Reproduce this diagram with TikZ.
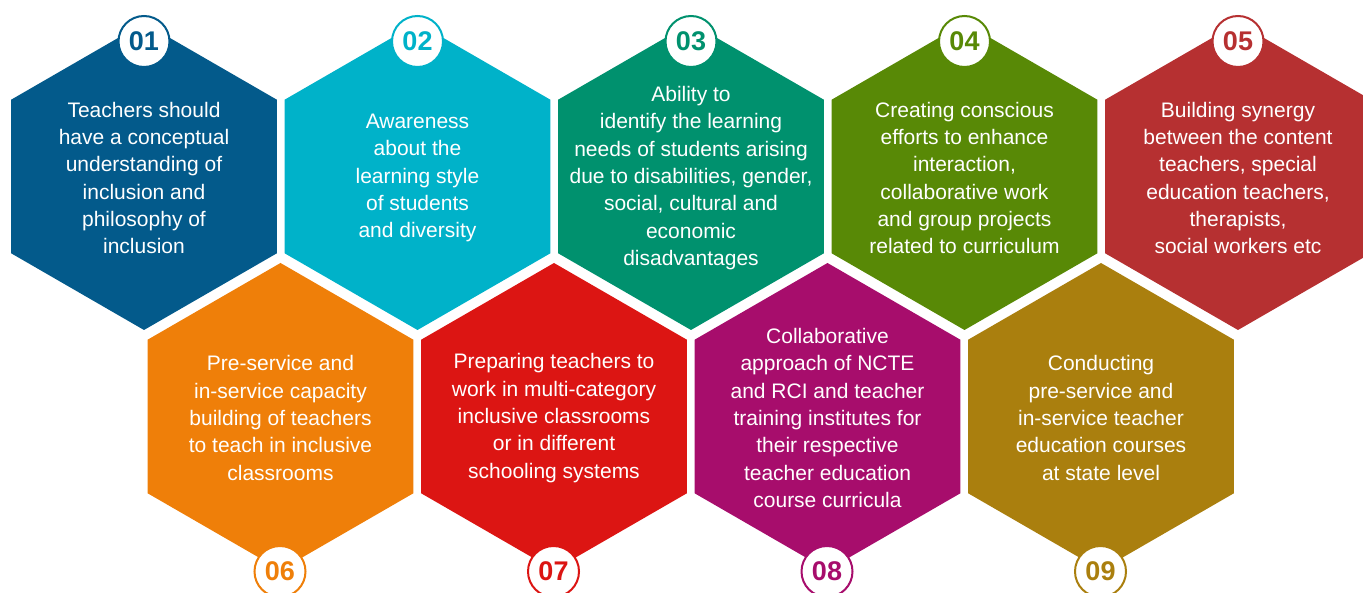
\documentclass[tikz,border=0pt]{standalone}
\usepackage{fontspec}
\setmainfont{Liberation Sans}
\usepackage{xcolor}
\usetikzlibrary{shapes.geometric, positioning}
\definecolor{cOne}{HTML}{035A8B}
\definecolor{cTwo}{HTML}{00B2C9}
\definecolor{cThree}{HTML}{00916E}
\definecolor{cFour}{HTML}{588906}
\definecolor{cFive}{HTML}{B63031}
\definecolor{cSix}{HTML}{EF7F09}
\definecolor{cSeven}{HTML}{DC1513}
\definecolor{cEight}{HTML}{A70D6C}
\definecolor{cNine}{HTML}{AA7F0E}
\tikzset{every node/.style={align=center}}

\begin{document}
\begin{tikzpicture}[x=1pt, y=-1pt,
    hexa/.style={regular polygon, regular polygon sides=6, draw=none,
                 shape border rotate=30,
                 minimum size=307pt, inner sep=0pt, outer sep=0pt},
    txt/.style={text=white, inner sep=0pt, yshift=-1.5pt,
                font=\fontsize{21}{27.3}\selectfont},
    badge/.style={circle, fill=white, line width=2pt, minimum size=51pt,
                  inner sep=0pt, font=\fontsize{27}{27}\selectfont\bfseries}
]
  \useasboundingbox (0,0) rectangle (1363,593);

  % --- top row ---
  \node[hexa, fill=cOne]   (H01) at (144,176.5)  {};
  \node[txt] (T01) at (H01) {Teachers should\\have a conceptual\\understanding of\\inclusion and\\philosophy of\\inclusion};
  \node[badge, draw=cOne, text=cOne] (N01) at (144,41.5) {01};

  \node[hexa, fill=cTwo]   (H02) at (417.5,176.5) {};
  \node[txt] (T02) at (H02) {Awareness\\about the\\learning style\\of students\\and diversity};
  \node[badge, draw=cTwo, text=cTwo] (N02) at (417.5,41.5) {02};

  \node[hexa, fill=cThree] (H03) at (691,176.5)  {};
  \node[txt] (T03) at (H03) {Ability to\\identify the learning\\needs of students arising\\due to disabilities, gender,\\social, cultural and\\economic\\disadvantages};
  \node[badge, draw=cThree, text=cThree] (N03) at (691,41.5) {03};

  \node[hexa, fill=cFour]  (H04) at (964.5,176.5) {};
  \node[txt] (T04) at (H04) {Creating conscious\\efforts to enhance\\interaction,\\collaborative work\\and group projects\\related to curriculum};
  \node[badge, draw=cFour, text=cFour] (N04) at (964.5,41.5) {04};

  \node[hexa, fill=cFive]  (H05) at (1238,176.5) {};
  \node[txt] (T05) at (H05) {Building synergy\\between the content\\teachers, special\\education teachers,\\therapists,\\social workers etc};
  \node[badge, draw=cFive, text=cFive] (N05) at (1238,41.5) {05};

  % --- bottom row ---
  \node[hexa, fill=cSix]   (H06) at (280.5,416.5) {};
  \node[txt] (T06) at (H06) {Pre-service and\\in-service capacity\\building of teachers\\to teach in inclusive\\classrooms};
  \node[badge, draw=cSix, text=cSix] (N06) at (280,571.5) {06};

  \node[hexa, fill=cSeven] (H07) at (554,416.5) {};
  \node[txt] (T07) at (H07) {Preparing teachers to\\work in multi-category\\inclusive classrooms\\or in different\\schooling systems};
  \node[badge, draw=cSeven, text=cSeven] (N07) at (553.5,571.5) {07};

  \node[hexa, fill=cEight] (H08) at (827.5,416.5) {};
  \node[txt] (T08) at (H08) {Collaborative\\approach of NCTE\\and RCI and teacher\\training institutes for\\their respective\\teacher education\\course curricula};
  \node[badge, draw=cEight, text=cEight] (N08) at (827,571.5) {08};

  \node[hexa, fill=cNine]  (H09) at (1101,416.5) {};
  \node[txt] (T09) at (H09) {Conducting\\pre-service and\\in-service teacher\\education courses\\at state level};
  \node[badge, draw=cNine, text=cNine] (N09) at (1100.5,571.5) {09};
\end{tikzpicture}
\end{document}
